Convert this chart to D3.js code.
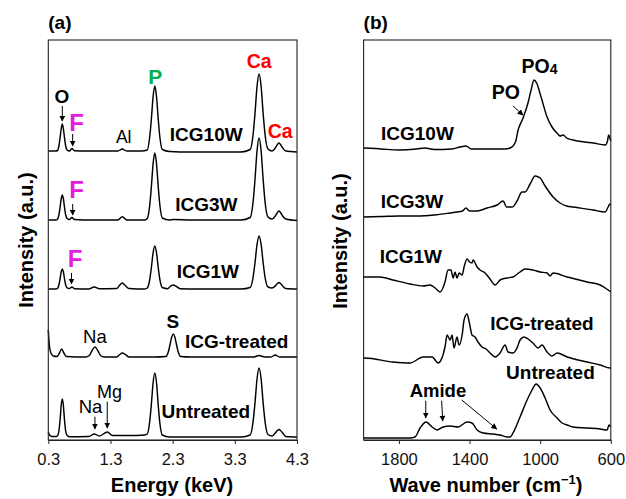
<!DOCTYPE html>
<html>
<head>
<meta charset="utf-8">
<script src="https://cdn.jsdelivr.net/npm/d3@7"></script>
<style>
  body { margin: 0; background: #fff; }
  svg text { font-family: "Liberation Sans", Arial, sans-serif; }
</style>
</head>
<body>
<div id="chart"></div>
<script>
// ---------- data ----------
var energyTicks = [0.3, 1.3, 2.3, 3.3, 4.3];
var waveTicks = [1800, 1400, 1000, 600];
var sampleNames = ["ICG10W", "ICG3W", "ICG1W", "ICG-treated", "Untreated"];

// EDS spectra: [energy keV, intensity a.u.] above own baseline
var edsOffsets = [288, 220, 151, 83, 3];
var eds10W = [[0.3,1],[0.42,1],[0.448,1.5],[0.472,6.5],[0.49,14.5],[0.507,23],[0.525,28],[0.543,23],[0.56,14.5],[0.578,6.5],[0.602,2],[0.64,1],[0.68,3.5],[0.72,1.2],[0.9,1],[1.2,1],[1.42,1],[1.49,3],[1.56,1],[1.8,1],
  [1.892,2],[1.93,14.5],[1.958,33],[1.985,55],[2.013,66],[2.041,55],[2.068,33],[2.096,14],[2.134,2.5],[2.25,0.5],[2.6,0],[3.0,0],[3.4,0],
  [3.547,2.5],[3.592,16.5],[3.625,39],[3.657,65.5],[3.69,78],[3.723,65.5],[3.755,39],[3.788,16.5],[3.833,3],
  [3.9,1],[3.95,4],[3.985,7.5],[4.01,9],[4.035,7.5],[4.07,4],[4.12,1],[4.3,0]];
var eds3W = [[0.3,0],[0.42,0],[0.448,0.8],[0.472,5.5],[0.49,13],[0.507,21],[0.525,25],[0.543,21],[0.56,13],[0.578,5.5],[0.602,1.5],[0.64,0.5],[0.68,2.5],[0.72,0.5],[1.0,0],[1.42,0],[1.49,3.3],[1.56,0],[1.85,0],
  [1.892,1.5],[1.93,14],[1.958,33.5],[1.985,56],[2.013,67],[2.041,56],[2.068,33.5],[2.096,14],[2.134,2],[2.25,0],[2.31,0.5],[2.6,0],[3.4,0],
  [3.547,2.5],[3.592,17],[3.625,41],[3.657,69],[3.69,82],[3.723,69],[3.755,41],[3.788,17],[3.833,3],
  [3.9,1],[3.95,4],[3.985,7.5],[4.01,9],[4.035,7.5],[4.07,4],[4.12,1],[4.3,-0.5]];
var eds1W = [[0.3,0],[0.42,0],[0.448,0.6],[0.472,4.5],[0.49,10.5],[0.507,17],[0.525,20],[0.543,17],[0.56,10.5],[0.578,4.5],[0.602,1.2],[0.64,0.5],[0.68,2],[0.72,0.3],[0.95,0],[1.04,2],[1.12,0.3],[1.4,0.5],[1.45,4],[1.49,6],[1.53,4],[1.6,0.5],[1.85,0],
  [1.892,1],[1.93,9],[1.958,21.5],[1.985,36],[2.013,43],[2.041,36],[2.068,21.5],[2.096,9],[2.134,1.5],[2.22,0.3],[2.26,2.5],[2.31,4],[2.36,2.5],[2.42,0.3],[2.7,0],[3.4,0],
  [3.547,1.5],[3.592,11],[3.625,26.5],[3.657,44.5],[3.69,53],[3.723,44.5],[3.755,26.5],[3.788,11],[3.833,2],
  [3.9,1],[3.95,3],[3.985,5.5],[4.01,6.5],[4.035,5.5],[4.07,3],[4.12,0.5],[4.3,0]];
var edsTreated = [[0.3,27],[0.31,17],[0.325,8],[0.35,3],[0.38,1],[0.44,0.5],[0.48,4],[0.515,8],[0.55,4],[0.59,0.5],[0.9,0],[0.96,1.5],[1.0,6],[1.05,10],[1.1,6],[1.14,1.5],[1.2,0],[1.4,0],[1.45,2.5],[1.49,4],[1.54,2.5],[1.6,0],[2.0,0],
  [2.19,0.5],[2.23,5],[2.26,13],[2.285,20],[2.31,23],[2.335,20],[2.36,13],[2.39,5],[2.43,0.5],[2.6,0],[3.6,0],[3.69,1.5],[3.78,0],[3.88,0],[3.95,2],[4.02,0],[4.3,0]];
var edsUntreated = [[0.3,5],[0.32,2],[0.36,0.5],[0.43,0.5],[0.455,2],[0.475,8],[0.492,19],[0.508,32],[0.525,38],[0.542,32],[0.558,19],[0.575,8],[0.598,2],[0.64,0.3],[0.95,0.5],[1.04,3],[1.12,1],[1.25,5],[1.33,1.5],[1.6,1.5],[1.85,2],
  [1.892,3],[1.93,15],[1.958,33],[1.985,54],[2.013,64],[2.041,54],[2.068,32],[2.096,13],[2.134,2],[2.25,0],[3.4,0],
  [3.547,2],[3.592,14.5],[3.625,34.5],[3.657,58],[3.69,69],[3.723,58],[3.755,34.5],[3.788,14.5],[3.833,2.5],
  [3.9,1],[3.95,4],[3.985,6.5],[4.01,7.5],[4.035,6.5],[4.07,4],[4.12,0.5],[4.3,0]];

// FTIR spectra: [wave number cm-1, absorbance a.u.] above own baseline
var ftirOffsets = [291, 223, 148, 72, 1];
var ftir10W = [[2000,1],[1990,1],[1900,0],[1800,-1],[1700,0],[1652,1],[1600,-0.5],[1500,0],[1454,2],[1420,3],[1390,0],[1300,0],[1200,0],[1170,1],[1140,7],[1125,19],[1097,31],[1069,46],[1050,60],[1035,69],[1020,66],[1000,55],[990,49],[961,32],[933,22],[900,15],[887,13],[870,14],[850,11],[814,9],[750,7],[700,6],[632,4],[620,7],[612,14],[604,10],[600,8]];
var ftir3W = [[2000,0],[1900,0.5],[1800,1],[1700,1],[1600,2],[1510,4],[1470,5],[1440,6],[1420,9],[1400,6],[1357,6],[1301,9],[1244,12],[1210,16],[1190,10],[1159,10],[1131,16],[1103,25],[1086,25],[1057,33],[1029,41],[1010,40],[1000,39],[972,31],[927,20],[887,14],[850,11],[814,10],[700,7],[632,5],[615,10],[605,13],[600,12]];
var ftir1W = [[2000,15],[1907,15],[1834,12],[1737,8],[1663,6],[1624,7],[1595,4],[1567,0],[1539,10],[1522,22],[1505,22],[1493,14],[1482,20],[1471,14],[1459,19],[1442,17],[1431,25],[1414,33],[1400,30],[1386,29],[1380,32],[1357,25],[1340,22],[1312,19],[1284,13],[1255,7],[1227,12],[1188,14],[1154,15],[1114,20],[1086,23],[1041,22],[1000,20],[961,19],[944,16],[927,19],[847,15],[734,10],[660,7],[615,2],[600,0]];
var ftirTreated = [[2000,10],[1992,10],[1834,6],[1737,5],[1663,11],[1612,11],[1578,5],[1539,21],[1527,33],[1510,28],[1499,33],[1488,20],[1471,31],[1459,23],[1442,33],[1431,48],[1414,54],[1402,46],[1386,33],[1369,31],[1352,26],[1329,21],[1306,19],[1284,15],[1255,11],[1227,15],[1199,23],[1182,16],[1154,15],[1131,20],[1114,28],[1091,31],[1069,29],[1041,25],[1012,20],[990,23],[961,16],[933,12],[904,15],[847,11],[734,6],[660,3],[604,0],[600,0]];
var ftirUntreated = [[2000,1],[1992,1],[1737,1],[1709,2],[1680,11],[1646,17],[1612,12],[1584,9],[1550,12],[1510,13],[1465,12],[1414,17],[1386,16],[1357,9],[1323,6],[1267,5],[1227,4],[1188,2],[1170,2],[1154,6],[1114,22],[1074,39],[1046,49],[1023,55],[1000,51],[972,41],[944,29],[904,21],[876,16],[847,14],[814,12],[734,11],[660,10],[621,9],[610,14],[600,12]];

var edsSeries = [eds10W, eds3W, eds1W, edsTreated, edsUntreated];
var ftirSeries = [ftir10W, ftir3W, ftir1W, ftirTreated, ftirUntreated];

// ---------- layout ----------
var width = 626, height = 499;
var plotTop = 40, plotBottom = 440;
var black = "#000";

var svg = d3.select("#chart")
    .append("svg")
    .attr("width", width)
    .attr("height", height);

svg.append("defs").append("marker")
    .attr("id", "arrow")
    .attr("viewBox", "0 0 10 10")
    .attr("refX", 9).attr("refY", 5)
    .attr("markerUnits", "userSpaceOnUse")
    .attr("markerWidth", 6).attr("markerHeight", 6)
    .attr("orient", "auto")
    .append("path")
    .attr("d", "M0,0L10,5L0,10Z")
    .attr("fill", black);

var xA = d3.scaleLinear().domain([0.3, 4.3]).range([48.3, 297]);
var xB = d3.scaleLinear().domain([2000, 600]).range([363.6, 610.8]);
var y = d3.scaleLinear().domain([0, 400]).range([plotBottom, plotTop]);

function drawPanel(x, ticks, fmt, series, offsets, tag) {
    var g = svg.append("g");
    var x0 = x.range()[0], x1 = x.range()[1];

    // spectra
    series.forEach(function (s, i) {
        var line = d3.line()
            .x(function (d) { return x(d[0]); })
            .y(function (d) { return y(d[1] + offsets[i]); })
            .curve(d3.curveMonotoneX);
        g.append("path")
            .attr("d", line(s))
            .attr("fill", "none")
            .attr("stroke", black)
            .attr("stroke-width", 1.45)
            .attr("stroke-linejoin", "round");
    });

    // frame
    g.append("rect")
        .attr("x", x0).attr("y", plotTop)
        .attr("width", x1 - x0).attr("height", plotBottom - plotTop)
        .attr("fill", "none")
        .attr("stroke", "#222")
        .attr("stroke-width", 1.1);

    var ax = g.append("g")
        .attr("transform", "translate(0," + plotBottom + ")")
        .call(d3.axisBottom(x).tickValues(ticks).tickFormat(fmt)
            .tickSize(4).tickSizeOuter(0).tickPadding(9));
    ax.select(".domain").attr("stroke", "#222");
    ax.selectAll(".tick line").attr("stroke", "#222");
    ax.selectAll("text")
        .style("font-size", "16.5px")
        .attr("fill", "#111");

    g.append("text")
        .attr("x", x0).attr("y", 29)
        .style("font-size", "19px").style("font-weight", "bold")
        .text(tag);

    return g;
}

drawPanel(xA, energyTicks, d3.format(".1f"), edsSeries, edsOffsets, "(a)");
drawPanel(xB, waveTicks, d3.format("d"), ftirSeries, ftirOffsets, "(b)");

// axis titles
svg.append("text")
    .attr("x", 172).attr("y", 492)
    .attr("text-anchor", "middle")
    .style("font-size", "20px").style("font-weight", "bold")
    .text("Energy (keV)");

var wt = svg.append("text")
    .attr("x", 486).attr("y", 492)
    .attr("text-anchor", "middle")
    .style("font-size", "20px").style("font-weight", "bold");
wt.append("tspan").text("Wave number (cm");
wt.append("tspan").attr("dy", -8).style("font-size", "13px").text("\u22121");
wt.append("tspan").attr("dy", 8).text(")");

[[33, 240], [346.5, 241]].forEach(function (p) {
    svg.append("text")
        .attr("transform", "translate(" + p[0] + "," + p[1] + ")rotate(-90)")
        .attr("text-anchor", "middle")
        .style("font-size", "20px").style("font-weight", "bold")
        .text("Intensity (a.u.)");
});

// ---------- annotations (data coordinates) ----------
var notesA = [
    { t: "O", at: [0.52, 337], size: 19, w: "bold", c: black },
    { t: "F", at: [0.756, 309.3], size: 24, w: "bold", c: "#e31ce0" },
    { t: "Al", at: [1.513, 296.7], size: 17.5, w: "normal", c: black },
    { t: "P", at: [2.019, 356], size: 21, w: "bold", c: "#00b050" },
    { t: "Ca", at: [3.693, 372], size: 19.5, w: "bold", c: "#ff0000" },
    { t: "Ca", at: [4.03, 302], size: 19.5, w: "bold", c: "#ff0000" },
    { t: sampleNames[0], at: [2.841, 299.3], size: 19, w: "bold", c: black },
    { t: "F", at: [0.756, 242], size: 24, w: "bold", c: "#e31ce0" },
    { t: sampleNames[1], at: [2.841, 229.3], size: 19, w: "bold", c: black },
    { t: "F", at: [0.729, 173.3], size: 24, w: "bold", c: "#e31ce0" },
    { t: sampleNames[2], at: [2.866, 162.3], size: 19, w: "bold", c: black },
    { t: "S", at: [2.303, 111.7], size: 19, w: "bold", c: black },
    { t: "Na", at: [1.05, 97.3], size: 18.5, w: "normal", c: black },
    { t: sampleNames[3], at: [3.331, 91.7], size: 19, w: "bold", c: black },
    { t: "Mg", at: [1.283, 41.7], size: 18, w: "normal", c: black },
    { t: "Na", at: [0.978, 26.7], size: 18.5, w: "normal", c: black },
    { t: sampleNames[4], at: [2.833, 21.7], size: 19, w: "bold", c: black }
];
var arrowsA = [
    [[0.525, 334], [0.525, 319]],
    [[0.692, 306], [0.692, 294]],
    [[0.692, 236], [0.692, 225]],
    [[0.673, 167], [0.673, 156]],
    [[1.05, 23.3], [1.05, 11]],
    [[1.248, 38.3], [1.248, 12]]
];

var notesB = [
    { t: "PO", at: [1194, 341], size: 19.5, w: "bold", c: black },
    { t: sampleNames[0], at: [1695, 300], size: 19, w: "bold", c: black },
    { t: sampleNames[1], at: [1726, 231.7], size: 19, w: "bold", c: black },
    { t: sampleNames[2], at: [1732, 176.7], size: 19, w: "bold", c: black },
    { t: sampleNames[3], at: [990, 110], size: 19, w: "bold", c: black },
    { t: sampleNames[4], at: [942, 60.7], size: 19, w: "bold", c: black },
    { t: "Amide", at: [1579, 43.3], size: 18.5, w: "bold", c: black }
];
var arrowsB = [
    [[1154, 334], [1097, 325]],
    [[1648, 39.3], [1648, 22]],
    [[1558, 39.3], [1552, 19]],
    [[1444, 40], [1246, 11]]
];

function drawNotes(x, notes, arrows) {
    svg.selectAll(null)
        .data(notes)
        .enter().append("text")
        .attr("x", function (d) { return x(d.at[0]); })
        .attr("y", function (d) { return y(d.at[1]); })
        .attr("text-anchor", "middle")
        .attr("fill", function (d) { return d.c; })
        .style("font-size", function (d) { return d.size + "px"; })
        .style("font-weight", function (d) { return d.w; })
        .text(function (d) { return d.t; });

    svg.selectAll(null)
        .data(arrows)
        .enter().append("line")
        .attr("x1", function (d) { return x(d[0][0]); })
        .attr("y1", function (d) { return y(d[0][1]); })
        .attr("x2", function (d) { return x(d[1][0]); })
        .attr("y2", function (d) { return y(d[1][1]); })
        .attr("stroke", black)
        .attr("stroke-width", 1)
        .attr("marker-end", "url(#arrow)");
}
drawNotes(xA, notesA, arrowsA);
drawNotes(xB, notesB, arrowsB);

// PO4 with subscript
var po4 = svg.append("text")
    .attr("x", xB(1004)).attr("y", y(367.3))
    .attr("text-anchor", "middle")
    .style("font-size", "19.5px").style("font-weight", "bold");
po4.append("tspan").text("PO");
po4.append("tspan").attr("dy", 1).style("font-size", "14px").text("4");
</script>
</body>
</html>
